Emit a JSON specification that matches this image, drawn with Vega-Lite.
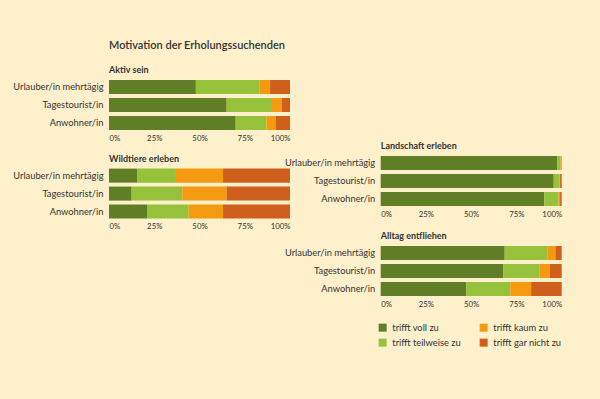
{
  "$schema": "https://vega.github.io/schema/vega-lite/v6.json",
  "background": "#fdf0cb",
  "padding": {"left": 12, "top": 40, "right": 38, "bottom": 51},
  "title": {"text": "Motivation der Erholungssuchenden", "anchor": "start", "frame": "group", "fontSize": 11, "fontWeight": 600, "color": "#333333", "offset": 15, "font": "Lato"},
  "datasets": {
    "d": [
      {"panel": "Aktiv sein", "group": "Urlauber/in mehrtägig", "cat": "trifft voll zu", "rank": 1, "value": 48},
      {"panel": "Aktiv sein", "group": "Urlauber/in mehrtägig", "cat": "trifft teilweise zu", "rank": 2, "value": 35},
      {"panel": "Aktiv sein", "group": "Urlauber/in mehrtägig", "cat": "trifft kaum zu", "rank": 3, "value": 6},
      {"panel": "Aktiv sein", "group": "Urlauber/in mehrtägig", "cat": "trifft gar nicht zu", "rank": 4, "value": 11},
      {"panel": "Aktiv sein", "group": "Tagestourist/in", "cat": "trifft voll zu", "rank": 1, "value": 65},
      {"panel": "Aktiv sein", "group": "Tagestourist/in", "cat": "trifft teilweise zu", "rank": 2, "value": 24.5},
      {"panel": "Aktiv sein", "group": "Tagestourist/in", "cat": "trifft kaum zu", "rank": 3, "value": 6},
      {"panel": "Aktiv sein", "group": "Tagestourist/in", "cat": "trifft gar nicht zu", "rank": 4, "value": 4.5},
      {"panel": "Aktiv sein", "group": "Anwohner/in", "cat": "trifft voll zu", "rank": 1, "value": 70},
      {"panel": "Aktiv sein", "group": "Anwohner/in", "cat": "trifft teilweise zu", "rank": 2, "value": 17},
      {"panel": "Aktiv sein", "group": "Anwohner/in", "cat": "trifft kaum zu", "rank": 3, "value": 5},
      {"panel": "Aktiv sein", "group": "Anwohner/in", "cat": "trifft gar nicht zu", "rank": 4, "value": 8},
      {"panel": "Wildtiere erleben", "group": "Urlauber/in mehrtägig", "cat": "trifft voll zu", "rank": 1, "value": 15.5},
      {"panel": "Wildtiere erleben", "group": "Urlauber/in mehrtägig", "cat": "trifft teilweise zu", "rank": 2, "value": 21.5},
      {"panel": "Wildtiere erleben", "group": "Urlauber/in mehrtägig", "cat": "trifft kaum zu", "rank": 3, "value": 26},
      {"panel": "Wildtiere erleben", "group": "Urlauber/in mehrtägig", "cat": "trifft gar nicht zu", "rank": 4, "value": 37},
      {"panel": "Wildtiere erleben", "group": "Tagestourist/in", "cat": "trifft voll zu", "rank": 1, "value": 12.5},
      {"panel": "Wildtiere erleben", "group": "Tagestourist/in", "cat": "trifft teilweise zu", "rank": 2, "value": 28},
      {"panel": "Wildtiere erleben", "group": "Tagestourist/in", "cat": "trifft kaum zu", "rank": 3, "value": 24.5},
      {"panel": "Wildtiere erleben", "group": "Tagestourist/in", "cat": "trifft gar nicht zu", "rank": 4, "value": 35},
      {"panel": "Wildtiere erleben", "group": "Anwohner/in", "cat": "trifft voll zu", "rank": 1, "value": 21},
      {"panel": "Wildtiere erleben", "group": "Anwohner/in", "cat": "trifft teilweise zu", "rank": 2, "value": 23},
      {"panel": "Wildtiere erleben", "group": "Anwohner/in", "cat": "trifft kaum zu", "rank": 3, "value": 19},
      {"panel": "Wildtiere erleben", "group": "Anwohner/in", "cat": "trifft gar nicht zu", "rank": 4, "value": 37},
      {"panel": "Landschaft erleben", "group": "Urlauber/in mehrtägig", "cat": "trifft voll zu", "rank": 1, "value": 97.5},
      {"panel": "Landschaft erleben", "group": "Urlauber/in mehrtägig", "cat": "trifft teilweise zu", "rank": 2, "value": 1.8},
      {"panel": "Landschaft erleben", "group": "Urlauber/in mehrtägig", "cat": "trifft kaum zu", "rank": 3, "value": 0.5},
      {"panel": "Landschaft erleben", "group": "Urlauber/in mehrtägig", "cat": "trifft gar nicht zu", "rank": 4, "value": 0.2},
      {"panel": "Landschaft erleben", "group": "Tagestourist/in", "cat": "trifft voll zu", "rank": 1, "value": 95.6},
      {"panel": "Landschaft erleben", "group": "Tagestourist/in", "cat": "trifft teilweise zu", "rank": 2, "value": 3.3},
      {"panel": "Landschaft erleben", "group": "Tagestourist/in", "cat": "trifft kaum zu", "rank": 3, "value": 0.2},
      {"panel": "Landschaft erleben", "group": "Tagestourist/in", "cat": "trifft gar nicht zu", "rank": 4, "value": 0.9},
      {"panel": "Landschaft erleben", "group": "Anwohner/in", "cat": "trifft voll zu", "rank": 1, "value": 90.4},
      {"panel": "Landschaft erleben", "group": "Anwohner/in", "cat": "trifft teilweise zu", "rank": 2, "value": 7.9},
      {"panel": "Landschaft erleben", "group": "Anwohner/in", "cat": "trifft kaum zu", "rank": 3, "value": 0.8},
      {"panel": "Landschaft erleben", "group": "Anwohner/in", "cat": "trifft gar nicht zu", "rank": 4, "value": 0.9},
      {"panel": "Alltag entfliehen", "group": "Urlauber/in mehrtägig", "cat": "trifft voll zu", "rank": 1, "value": 68.5},
      {"panel": "Alltag entfliehen", "group": "Urlauber/in mehrtägig", "cat": "trifft teilweise zu", "rank": 2, "value": 23.5},
      {"panel": "Alltag entfliehen", "group": "Urlauber/in mehrtägig", "cat": "trifft kaum zu", "rank": 3, "value": 4.5},
      {"panel": "Alltag entfliehen", "group": "Urlauber/in mehrtägig", "cat": "trifft gar nicht zu", "rank": 4, "value": 3.5},
      {"panel": "Alltag entfliehen", "group": "Tagestourist/in", "cat": "trifft voll zu", "rank": 1, "value": 67.7},
      {"panel": "Alltag entfliehen", "group": "Tagestourist/in", "cat": "trifft teilweise zu", "rank": 2, "value": 19.9},
      {"panel": "Alltag entfliehen", "group": "Tagestourist/in", "cat": "trifft kaum zu", "rank": 3, "value": 5.9},
      {"panel": "Alltag entfliehen", "group": "Tagestourist/in", "cat": "trifft gar nicht zu", "rank": 4, "value": 6.5},
      {"panel": "Alltag entfliehen", "group": "Anwohner/in", "cat": "trifft voll zu", "rank": 1, "value": 47.3},
      {"panel": "Alltag entfliehen", "group": "Anwohner/in", "cat": "trifft teilweise zu", "rank": 2, "value": 24.3},
      {"panel": "Alltag entfliehen", "group": "Anwohner/in", "cat": "trifft kaum zu", "rank": 3, "value": 11.5},
      {"panel": "Alltag entfliehen", "group": "Anwohner/in", "cat": "trifft gar nicht zu", "rank": 4, "value": 16.9}
    ],
    "blank": [{"k": 1}]
  },
  "config": {
    "font": "Lato",
    "view": {"stroke": null},
    "axis": {"ticks": false, "domain": false, "grid": false, "labelColor": "#333333", "title": null},
    "axisX": {"labelFontSize": 7.8, "labelPadding": 4},
    "axisY": {"labelFontSize": 9.3, "labelPadding": 6},
    "title": {"anchor": "start", "frame": "group", "fontSize": 9, "fontWeight": "bold", "color": "#333333", "offset": 5}
  },
  "bounds": "flush",
  "spacing": 271.7,
  "hconcat": [
    {
      "bounds": "flush",
      "spacing": 38.6,
      "vconcat": [
        {
          "title": "Aktiv sein",
          "width": 181, "height": 50,
          "data": {"name": "d"},
          "transform": [{"filter": "datum.panel === 'Aktiv sein'"}],
          "mark": {"type": "bar"},
          "encoding": {
            "y": {"field": "group", "type": "nominal", "sort": ["Urlauber/in mehrtägig", "Tagestourist/in", "Anwohner/in"], "scale": {"paddingInner": 0.22, "paddingOuter": 0}},
            "x": {"field": "value", "type": "quantitative", "stack": "normalize", "scale": {"domain": [0, 1]}, "axis": {"values": [0, 0.25, 0.5, 0.75, 1], "format": ".0%"}},
            "order": {"field": "rank", "type": "quantitative"},
            "color": {"field": "cat", "type": "nominal", "scale": {"domain": ["trifft voll zu", "trifft teilweise zu", "trifft kaum zu", "trifft gar nicht zu"], "range": ["#5f7e26", "#95c23a", "#f39a11", "#cf5f1c"]}, "legend": {"orient": "none", "legendX": 269, "legendY": 243, "columns": 2, "title": null, "symbolType": "square", "symbolSize": 64, "symbolStrokeWidth": 0, "symbolOpacity": 1, "labelFontSize": 9.3, "labelColor": "#333333", "labelOffset": 5, "columnPadding": 18, "rowPadding": 5, "padding": 0}}
          }
        },
        {
          "title": "Wildtiere erleben",
          "width": 181, "height": 50,
          "data": {"name": "d"},
          "transform": [{"filter": "datum.panel === 'Wildtiere erleben'"}],
          "mark": {"type": "bar"},
          "encoding": {
            "y": {"field": "group", "type": "nominal", "sort": ["Urlauber/in mehrtägig", "Tagestourist/in", "Anwohner/in"], "scale": {"paddingInner": 0.22, "paddingOuter": 0}},
            "x": {"field": "value", "type": "quantitative", "stack": "normalize", "scale": {"domain": [0, 1]}, "axis": {"values": [0, 0.25, 0.5, 0.75, 1], "format": ".0%"}},
            "order": {"field": "rank", "type": "quantitative"},
            "color": {"field": "cat", "type": "nominal"}
          }
        }
      ]
    },
    {
      "bounds": "flush",
      "spacing": 40,
      "vconcat": [
        {
          "width": 181, "height": 36,
          "data": {"name": "blank"},
          "mark": {"type": "point", "opacity": 0},
          "encoding": {}
        },
        {
          "title": "Landschaft erleben",
          "width": 181, "height": 50,
          "data": {"name": "d"},
          "transform": [{"filter": "datum.panel === 'Landschaft erleben'"}],
          "mark": {"type": "bar"},
          "encoding": {
            "y": {"field": "group", "type": "nominal", "sort": ["Urlauber/in mehrtägig", "Tagestourist/in", "Anwohner/in"], "scale": {"paddingInner": 0.22, "paddingOuter": 0}},
            "x": {"field": "value", "type": "quantitative", "stack": "normalize", "scale": {"domain": [0, 1]}, "axis": {"values": [0, 0.25, 0.5, 0.75, 1], "format": ".0%"}},
            "order": {"field": "rank", "type": "quantitative"},
            "color": {"field": "cat", "type": "nominal"}
          }
        },
        {
          "title": "Alltag entfliehen",
          "width": 181, "height": 50,
          "data": {"name": "d"},
          "transform": [{"filter": "datum.panel === 'Alltag entfliehen'"}],
          "mark": {"type": "bar"},
          "encoding": {
            "y": {"field": "group", "type": "nominal", "sort": ["Urlauber/in mehrtägig", "Tagestourist/in", "Anwohner/in"], "scale": {"paddingInner": 0.22, "paddingOuter": 0}},
            "x": {"field": "value", "type": "quantitative", "stack": "normalize", "scale": {"domain": [0, 1]}, "axis": {"values": [0, 0.25, 0.5, 0.75, 1], "format": ".0%"}},
            "order": {"field": "rank", "type": "quantitative"},
            "color": {"field": "cat", "type": "nominal"}
          }
        }
      ]
    }
  ]
}
